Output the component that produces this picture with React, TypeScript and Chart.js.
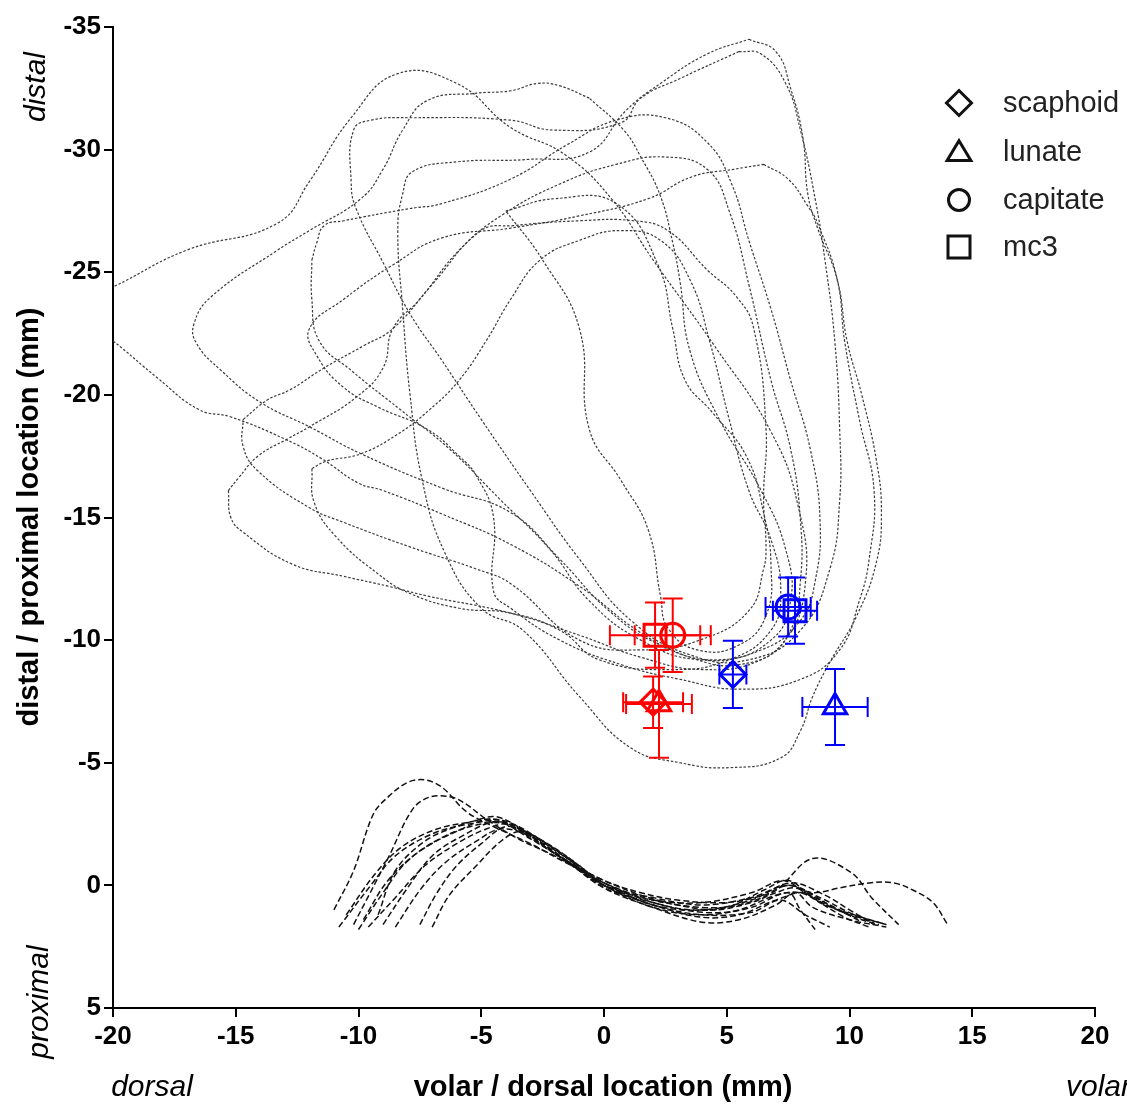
import React, { useEffect, useRef } from 'react';
import { Chart, registerables } from 'chart.js';

Chart.register(...registerables);

const FONT = '"Liberation Sans", Arial, Helvetica, sans-serif';

const xTicks = [-20, -15, -10, -5, 0, 5, 10, 15, 20];
const yTicks = [-35, -30, -25, -20, -15, -10, -5, 0, 5];

// Legend / bones
const bones = ['scaphoid', 'lunate', 'capitate', 'mc3'];
const boneStyles = ['rectRot', 'triangle', 'circle', 'rect'];
const boneRadii = [13, 13.5, 12, 15.5];

// Red markers (mean ± SD)
const redX = [2.0, 2.24, 2.8, 2.08];
const redY = [-7.47, -7.4, -10.2, -10.2];
const redXErr = [1.22, 1.34, 1.55, 1.84];
const redYErr = [1.05, 2.2, 1.5, 1.33];

// Blue markers (mean ± SD)
const blueX = [5.25, 9.41, 7.5, 7.78];
const blueY = [-8.6, -7.27, -11.35, -11.2];
const blueXErr = [0.55, 1.33, 0.92, 0.9];
const blueYErr = [1.37, 1.55, 1.2, 1.35];

// Circumduction loops (x mm, y mm)
const loop1: number[][] = [[-21, -22.9], [-20, -22.2], [-18.2, -20.7], [-16.5, -19.4], [-15.2, -19.1], [-13, -18.2], [-11.5, -17.4], [-10, -16.4], [-9, -16.1], [-6.5, -15.1], [-3.8, -13.9], [-1, -12.2], [1.5, -10.3], [3.5, -9.3], [5.5, -9.0], [7.3, -9.9], [8.2, -12.3], [7.9, -15.5], [6.8, -18.5], [4.5, -22], [2, -25.5], [0.3, -28], [-1.6, -29.8], [-3.8, -30.9], [-6, -32.7], [-8.4, -33.1], [-10.3, -31.3], [-12, -28.7], [-13.3, -27], [-17, -25.9], [-20, -24.4], [-21, -24]];
const loop2: number[][] = [[5.9, -34.5], [7, -34], [7.6, -32.5], [8.1, -30.5], [8.3, -28.2], [8.7, -26.8], [9.5, -24.7], [9.9, -22.2], [10.5, -20], [11.1, -17.3], [11.3, -15.2], [11.1, -13.2], [10.3, -11], [9.2, -9.1], [8.5, -7.7], [8, -6.3], [7.2, -5.2], [5.1, -4.8], [3.1, -5], [1.1, -5.6], [-1, -7.7], [-3.3, -10.4], [-5, -11.3], [-6.5, -13.6], [-7.4, -16.5], [-7.9, -20], [-8.2, -23.5], [-8.4, -26.7], [-8.2, -28.2], [-7.8, -29.1], [-6, -29.5], [-3.1, -29.6], [-0.6, -29.9], [0.9, -31.6], [2.3, -32.7], [4.2, -33.9], [5.9, -34.5]];
const loop3: number[][] = [[5.5, -34], [3.1, -32.9], [1.5, -32.1], [0.7, -31.1], [-2.1, -30.8], [-3.8, -31.2], [-7.9, -31.3], [-9.5, -31.2], [-10.2, -30.8], [-10.3, -28.7], [-10.1, -27.6], [-9, -25.4], [-7.9, -23.3], [-6.6, -21.4], [-5, -19], [-3, -16.1], [-1, -13.3], [1.1, -10.8], [3.5, -9.4], [5.9, -9.2], [8, -10.4], [9.2, -12.9], [9.6, -15.7], [9.6, -18.6], [9.4, -22.2], [9, -25.5], [8.6, -28], [8, -30.8], [7.4, -32.7], [6.4, -33.9], [5.5, -34]];
const loop4: number[][] = [[-0.6, -32.1], [-1.8, -32.6], [-2.7, -32.7], [-3.8, -32.4], [-5.2, -32.3], [-7.2, -32], [-8.2, -30.8], [-9, -29.2], [-9.9, -28], [-12, -26.7], [-13.3, -25.9], [-16, -24], [-16.7, -22.9], [-16.6, -22.1], [-15.6, -21], [-14, -19.7], [-12, -18.7], [-9.9, -17.6], [-6.6, -16.2], [-3.8, -15.2], [-1.8, -13.3], [0.2, -11.2], [2.3, -9.8], [4.7, -9.2], [6.8, -10], [7.6, -11.6], [7.4, -13.7], [6.4, -16.1], [4.7, -19], [3.5, -21.8], [3.1, -24.6], [2.8, -26.2], [2.3, -28.1], [1.5, -29.7], [0.8, -30.8], [-0.6, -32.1]];
const loop5: number[][] = [[6.5, -29.4], [7.5, -28.8], [8.3, -27.7], [8.7, -27], [9.5, -24.7], [9.8, -22.2], [10.4, -19], [11, -16.1], [10.8, -13.3], [10.4, -11.6], [9.6, -9.6], [8, -8.4], [5.5, -8], [3.1, -8.4], [0.7, -9], [-1.8, -10], [-3.8, -11.3], [-4.5, -12], [-4.5, -15], [-5.2, -16.7], [-5.9, -17.5], [-7.2, -18.6], [-9.2, -19.5], [-10.6, -20.3], [-11.7, -21.6], [-12, -22.7], [-10.6, -23.9], [-8.6, -25.3], [-6.6, -26.4], [-3.8, -26.8], [-1, -27.3], [1.8, -28], [3.6, -28.9], [5.3, -29.2], [6.5, -29.4]];
const loop6: number[][] = [[-15.3, -16.1], [-14.9, -16.6], [-14.1, -17.5], [-12.9, -18.2], [-12, -18.7], [-10.1, -19.9], [-9, -21.1], [-8.6, -22.7], [-7.5, -23.9], [-5.9, -25.9], [-4.2, -27.3], [-1.8, -28.6], [0.5, -29.4], [2.5, -29.7], [4.2, -29.2], [5.1, -27.5], [5.9, -24.5], [6.8, -20.6], [7.6, -17.8], [8, -14.9], [8, -12.4], [7.6, -10.4], [6.4, -9.2], [4, -8.8], [1.5, -9.3], [-1, -10.2], [-3.8, -11.1], [-7.2, -11.8], [-8.8, -12.2], [-10.6, -12.6], [-12.7, -13.1], [-14.7, -14.4], [-15.2, -15], [-15.3, -16.1]];
const loop7: number[][] = [[-14.7, -19], [-13.7, -19.8], [-12.8, -20.2], [-11.4, -21.1], [-9.8, -22], [-8.6, -22.7], [-7, -24.5], [-5, -26.7], [-3.7, -26.9], [-1, -27.1], [1.2, -27.1], [2.6, -26.7], [4.2, -25.1], [5.4, -24], [6.1, -22.7], [6.6, -18.6], [6.5, -15.8], [6.6, -13.8], [6.5, -12.9], [5.9, -11.2], [3.9, -10], [1.5, -9.6], [-1, -10], [-3.8, -12.3], [-5.2, -12.9], [-7.9, -13.8], [-10.6, -14.8], [-12, -15.4], [-14.1, -16.9], [-14.7, -17.9], [-14.7, -19]];
const loop8: number[][] = [[-11.9, -17], [-11.3, -17.3], [-9.9, -17.6], [-8.4, -18.4], [-7.1, -19.4], [-5.9, -20.6], [-4.8, -22.2], [-3.8, -23.9], [-2.6, -25.5], [-1, -26.3], [0.7, -26.7], [2.3, -26.3], [3.5, -24.7], [4.3, -22.2], [5.1, -19], [5.9, -16.1], [6.8, -14.1], [7.2, -12], [6.8, -10.4], [5.1, -9.2], [2.7, -8.8], [-0.2, -9.2], [-1.8, -10.4], [-3.8, -11.1], [-5.9, -11.3], [-7.9, -11.9], [-9.2, -12.7], [-10.9, -14.2], [-11.8, -15.6], [-11.9, -17]];
const loop9: number[][] = [[-11.9, -25.5], [-11.7, -26.2], [-11.4, -26.9], [-10.6, -27.1], [-7.9, -27.6], [-6.6, -27.8], [-3.8, -28.8], [-1.5, -30.2], [0.5, -31.2], [2.5, -31.3], [4.2, -30.3], [5.2, -28.6], [5.9, -26.3], [6.8, -23.5], [7.6, -20.6], [8.4, -17.8], [8.8, -14.9], [8.6, -12.4], [8, -10.8], [6.4, -9.6], [3.9, -9.2], [1.5, -10], [-0.6, -11.6], [-2.2, -13.7], [-4.2, -15.7], [-6.3, -17.8], [-8.3, -19.4], [-10.3, -21], [-11.6, -22.2], [-11.9, -23.9], [-11.9, -25.5]];
const loop10: number[][] = [[-4, -27.5], [-2, -28], [0.5, -27.8], [2.2, -25.3], [2.8, -22.7], [3.3, -20.6], [4.4, -19.3], [5.8, -17.5], [6.5, -15.2], [6.8, -13.1], [6.6, -11], [5.5, -9.8], [3.8, -9.6], [2.6, -10.5], [2.3, -11.8], [1.8, -14.5], [0.7, -16.5], [-0.6, -18.6], [-1, -22.7], [-2.5, -25.5], [-4, -27.5]];

// Proximal traces (lower bundle)
const prox1: number[][] = [[-11, 1.0], [-10.2, -0.6], [-9.4, -2.9], [-8.8, -3.6], [-8, -4.2], [-7.3, -4.3], [-6.6, -4.0], [-5.6, -3.0], [-4.5, -2.4], [-3, -1.7], [-1.5, -0.9], [0, -0.2], [1.5, 0.4], [3, 0.8], [4.5, 1.0], [6, 0.7], [7, 0.3], [7.8, 0.1], [8.5, 0.5], [9.5, 1.0], [10.5, 1.4], [11.2, 1.6]];
const prox2: number[][] = [[-10.2, 1.6], [-8.8, -1.1], [-7.8, -3.1], [-7.1, -3.6], [-6.2, -3.6], [-5.6, -3.3], [-4.8, -2.7], [-3.5, -1.9], [-2, -1.2], [0, -0.1], [2, 0.6], [4, 0.9], [5.5, 0.8], [7, 0.2], [8.5, -1.1], [10.1, -0.5], [10.9, 0.5], [12, 1.6]];
const prox3: number[][] = [[-10.8, 1.7], [-9.5, 0.0], [-8.5, -1.2], [-7, -2.1], [-5.5, -2.5], [-4.3, -2.6], [-3, -1.9], [-1.5, -1.0], [0, -0.2], [1.5, 0.3], [3, 0.6], [5, 0.7], [6.5, 0.4], [7.5, 0.0], [8.5, 0.3], [9.6, 0.1], [10.8, -0.1], [11.8, -0.1], [12.6, 0.2], [13.4, 0.7], [14, 1.6]];
const prox4: number[][] = [[-10, 1.8], [-9, 0.3], [-8, -1.0], [-6.5, -2.0], [-5, -2.5], [-4, -2.5], [-2.8, -1.8], [-1.2, -0.8], [0, -0.1], [2, 0.7], [4, 1.1], [5.5, 1.0], [7, 0.4], [8, 0.3], [9, 0.8], [10.5, 1.3], [11.5, 1.6]];
const prox5: number[][] = [[-9.8, 1.4], [-8.8, -0.2], [-7.5, -1.4], [-6, -2.2], [-4.6, -2.7], [-3.5, -2.3], [-2, -1.3], [0, 0.0], [2, 0.8], [4, 1.3], [5.5, 1.2], [7, 0.6], [8.2, 0.3], [9.5, 1.0], [11, 1.5]];
const prox6: number[][] = [[-9, 1.6], [-8, 0.1], [-7, -1.2], [-5.8, -2.0], [-4.4, -2.6], [-3.3, -2.2], [-1.8, -1.2], [0, 0.1], [2, 0.9], [4, 1.5], [5.5, 1.4], [7, 0.8], [7.8, 0.3], [8.5, 0.9], [10, 1.4], [11.5, 1.7]];
const prox7: number[][] = [[-8.5, 1.7], [-7.5, 0.2], [-6.5, -0.9], [-5.2, -1.8], [-4.2, -2.3], [-3, -2.0], [-1.5, -1.0], [0, 0.1], [2, 0.7], [3.5, 1.0], [5, 0.9], [6.5, 0.2], [7.5, -0.2], [8.5, 0.5], [9.8, 1.3], [10.8, 1.7]];
const prox8: number[][] = [[-7.5, 1.6], [-6.8, 0.3], [-6, -0.8], [-5, -1.7], [-4, -2.4], [-3, -2.1], [-1.5, -1.1], [0, 0.0], [2, 0.5], [4, 0.8], [6, 0.5], [7.5, 0.0], [8.8, 0.5], [10.2, 1.2], [11.5, 1.6]];
const prox9: number[][] = [[-7, 1.7], [-6.3, 0.4], [-5.2, -0.8], [-4.2, -1.8], [-3.4, -2.2], [-2.3, -1.7], [-1, -0.8], [0, 0.0], [2, 0.9], [4, 1.2], [6, 0.9], [7.5, 0.3], [8, 1.0], [8.6, 1.8]];
const prox10: number[][] = [[-10.5, 1.2], [-9.3, -0.5], [-8.2, -1.6], [-6.8, -2.3], [-5.4, -2.6], [-4.4, -2.8], [-3.2, -2.2], [-1.5, -1.1], [0, -0.1], [2, 0.8], [4, 1.0], [6, 0.6], [7.6, -0.1], [9, 0.4], [10, 1.0], [11, 1.6]];
const prox11: number[][] = [[-9.2, 1.2], [-8.5, -0.6], [-7.3, -1.8], [-6, -2.4], [-4.8, -2.7], [-3.7, -2.5], [-2.3, -1.5], [-1, -0.6], [0, 0.0], [2, 0.6], [4, 0.7], [6, 0.3], [7.3, -0.2], [8.2, 0.3], [9.4, 0.9], [10.5, 1.5]];
const prox12: number[][] = [[-9.6, 1.7], [-8.5, 0.5], [-7.3, -0.8], [-6, -1.7], [-4.8, -2.3], [-3.8, -2.5], [-2.5, -1.8], [-1, -0.8], [0, 0.0], [2, 0.8], [4, 1.2], [6, 1.1], [7.2, 0.6], [8.2, 1.2], [9.2, 1.7]];

const loops = [loop1, loop2, loop3, loop4, loop5, loop6, loop7, loop8, loop9, loop10];
const proxTraces = [prox1, prox2, prox3, prox4, prox5, prox6, prox7, prox8, prox9, prox10, prox11, prox12];

const toPts = (arr: number[][]) => arr.map(([x, y]) => ({ x, y }));

const errorBarPlugin = {
  id: 'errorBars',
  afterDatasetsDraw(chart: any) {
    const { ctx } = chart;
    const xs = chart.scales.x;
    const ys = chart.scales.y;
    const groups = [
      { X: redX, Y: redY, XE: redXErr, YE: redYErr, color: '#ff0000' },
      { X: blueX, Y: blueY, XE: blueXErr, YE: blueYErr, color: '#0000ff' },
    ];
    const cap = 10;
    ctx.save();
    ctx.lineWidth = 2;
    groups.forEach((g) => {
      ctx.strokeStyle = g.color;
      g.X.forEach((xv: number, i: number) => {
        const px = xs.getPixelForValue(xv);
        const py = ys.getPixelForValue(g.Y[i]);
        const x1 = xs.getPixelForValue(xv - g.XE[i]);
        const x2 = xs.getPixelForValue(xv + g.XE[i]);
        const y1 = ys.getPixelForValue(g.Y[i] - g.YE[i]);
        const y2 = ys.getPixelForValue(g.Y[i] + g.YE[i]);
        ctx.beginPath();
        ctx.moveTo(x1, py); ctx.lineTo(x2, py);
        ctx.moveTo(x1, py - cap); ctx.lineTo(x1, py + cap);
        ctx.moveTo(x2, py - cap); ctx.lineTo(x2, py + cap);
        ctx.moveTo(px, y1); ctx.lineTo(px, y2);
        ctx.moveTo(px - cap, y1); ctx.lineTo(px + cap, y1);
        ctx.moveTo(px - cap, y2); ctx.lineTo(px + cap, y2);
        ctx.stroke();
      });
    });
    ctx.restore();
  },
};

function drawShape(ctx: CanvasRenderingContext2D, style: string, x: number, y: number, r: number) {
  ctx.beginPath();
  if (style === 'rectRot') {
    ctx.moveTo(x, y - r); ctx.lineTo(x + r, y); ctx.lineTo(x, y + r); ctx.lineTo(x - r, y); ctx.closePath();
  } else if (style === 'triangle') {
    const h = r * 0.9;
    ctx.moveTo(x, y - h); ctx.lineTo(x + r * 0.95, y + h * 0.75); ctx.lineTo(x - r * 0.95, y + h * 0.75); ctx.closePath();
  } else if (style === 'circle') {
    ctx.arc(x, y, r, 0, Math.PI * 2);
  } else {
    ctx.rect(x - r, y - r, 2 * r, 2 * r);
  }
  ctx.stroke();
}

const annotationPlugin = {
  id: 'annotations',
  afterDraw(chart: any) {
    const { ctx } = chart;
    ctx.save();
    // legend
    const rowsY = [103, 152, 200, 247];
    const legendR = [12.5, 12.5, 10.5, 11];
    ctx.strokeStyle = '#111';
    ctx.lineWidth = 3;
    bones.forEach((b, i) => {
      drawShape(ctx, boneStyles[i], 959, rowsY[i], legendR[i]);
    });
    ctx.fillStyle = '#222';
    ctx.font = `29px ${FONT}`;
    ctx.textAlign = 'left';
    ctx.textBaseline = 'middle';
    bones.forEach((b, i) => ctx.fillText(b, 1003, rowsY[i] + 1));

    // axis titles
    ctx.fillStyle = '#000';
    ctx.textAlign = 'center';
    ctx.font = `bold 29px ${FONT}`;
    ctx.fillText('volar / dorsal location (mm)', 603, 1088);
    ctx.save();
    ctx.translate(30, 517);
    ctx.rotate(-Math.PI / 2);
    ctx.fillText('distal / proximal location (mm)', 0, 0);
    ctx.restore();

    ctx.font = `italic 30px ${FONT}`;
    ctx.fillText('dorsal', 152, 1088);
    ctx.textAlign = 'left';
    ctx.fillText('volar', 1066, 1088);
    ctx.textAlign = 'center';
    ctx.save();
    ctx.translate(37, 87);
    ctx.rotate(-Math.PI / 2);
    ctx.fillText('distal', 0, 0);
    ctx.restore();
    ctx.save();
    ctx.translate(40, 1002);
    ctx.rotate(-Math.PI / 2);
    ctx.fillText('proximal', 0, 0);
    ctx.restore();
    ctx.restore();
  },
};

export default function App() {
  const ref = useRef<HTMLCanvasElement>(null);
  useEffect(() => {
    document.body.style.margin = '0';
    const canvas = ref.current;
    if (!canvas) return;

    const loopSets = loops.map((l) => ({
      type: 'line' as const,
      data: toPts(l),
      borderColor: '#3a3a3a',
      borderWidth: 1.2,
      borderDash: [2.5, 1.8],
      pointRadius: 0,
      tension: 0.45,
      fill: false,
      order: 2,
    }));
    const proxSets = proxTraces.map((l) => ({
      type: 'line' as const,
      data: toPts(l),
      borderColor: '#111',
      borderWidth: 1.5,
      borderDash: [6, 3],
      pointRadius: 0,
      tension: 0.35,
      fill: false,
      order: 2,
    }));
    const markerSet = (X: number[], Y: number[], color: string) => ({
      type: 'scatter' as const,
      data: X.map((x, i) => ({ x, y: Y[i] })),
      showLine: false,
      pointStyle: boneStyles,
      pointRadius: boneRadii,
      pointBorderWidth: 3,
      pointBorderColor: color,
      pointBackgroundColor: 'rgba(0,0,0,0)',
      borderColor: color,
      backgroundColor: 'rgba(0,0,0,0)',
      order: 0,
    });

    const tickFont = { family: FONT, size: 26, weight: 'bold' as const };

    const chart = new Chart(canvas, {
      type: 'scatter',
      data: {
        datasets: [
          markerSet(redX, redY, '#ff0000'),
          markerSet(blueX, blueY, '#0000ff'),
          ...loopSets,
          ...proxSets,
        ] as any,
      },
      options: {
        animation: false,
        responsive: false,
        devicePixelRatio: 1,
        layout: { padding: { left: 0, right: 32, top: 27, bottom: 0 } },
        plugins: { legend: { display: false }, tooltip: { enabled: false } },
        scales: {
          x: {
            type: 'linear',
            position: 'bottom',
            min: -20,
            max: 20,
            afterFit: (s: any) => { s.height = 96; },
            afterBuildTicks: (s: any) => { s.ticks = xTicks.map((v) => ({ value: v })); },
            grid: { drawOnChartArea: false, drawTicks: true, tickLength: 9, color: '#000', lineWidth: 2 },
            border: { display: true, color: '#000', width: 2 },
            ticks: { font: tickFont, color: '#000', padding: 4, maxRotation: 0, autoSkip: false },
          },
          y: {
            type: 'linear',
            position: 'left',
            min: -35,
            max: 5,
            reverse: true,
            afterFit: (s: any) => { s.width = 113; },
            afterBuildTicks: (s: any) => { s.ticks = yTicks.map((v) => ({ value: v })); },
            grid: { drawOnChartArea: false, drawTicks: true, tickLength: 9, color: '#000', lineWidth: 2 },
            border: { display: true, color: '#000', width: 2 },
            ticks: { font: tickFont, color: '#000', padding: 3, autoSkip: false },
          },
        },
      } as any,
      plugins: [errorBarPlugin, annotationPlugin],
    });
    return () => chart.destroy();
  }, []);

  return (
    <canvas ref={ref} width={1127} height={1104} style={{ display: 'block', width: 1127, height: 1104 }} />
  );
}
